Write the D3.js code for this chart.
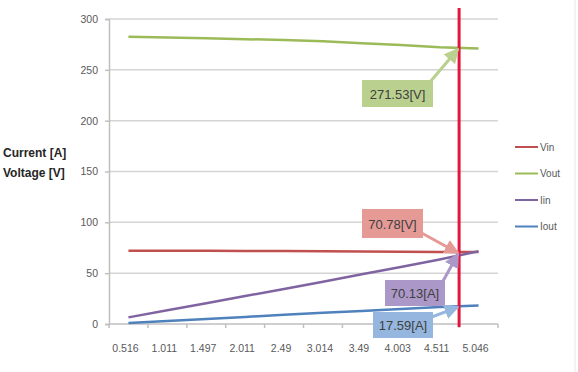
<!DOCTYPE html>
<html>
<head>
<meta charset="utf-8">
<script src="https://cdn.jsdelivr.net/npm/d3@7"></script>
<style>
  body { margin: 0; background: #fff; }
  svg { display: block; font-family: "Liberation Sans", Arial, sans-serif; }
</style>
</head>
<body>
<svg id="stage" width="578" height="372"></svg>
<script>
// chart data
const categories = ["0.516", "1.011", "1.497", "2.011", "2.49", "3.014", "3.49", "4.003", "4.511", "5.046"];
const vin = [72, 72, 72, 71.9, 71.8, 71.5, 71.3, 71.1, 70.9, 70.7];
const vout = [282.5, 281.8, 281, 280.2, 279.3, 278, 276.2, 274.5, 272.2, 271];
const iin = [6.5, 13.5, 20.5, 27.5, 34.5, 41.5, 49, 56, 63.5, 71.5];
const iout = [1, 3, 5, 7, 9, 11, 12.8, 14.7, 16.8, 18.3];
const yTicks = [0, 50, 100, 150, 200, 250, 300];
const seriesNames = ["Vin", "Vout", "Iin", "Iout"];
const callouts = [
  { text: "271.53[V]", value: 271.53 },
  { text: "70.78[V]", value: 70.78 },
  { text: "70.13[A]", value: 70.13 },
  { text: "17.59[A]", value: 17.59 },
];

const colors = { Vin: "#c0504d", Vout: "#9bbb59", Iin: "#8064a2", Iout: "#4f81bd" };
const boxFill = { Vin: "#e59a96", Vout: "#b9d08e", Iin: "#ab98c8", Iout: "#95b7df" };

const svg = d3.select("#stage");
const margin = { left: 109, right: 498, top: 19, bottom: 324 };

const x = d3.scaleBand().domain(categories).range([margin.left, margin.right]);
const xc = (c) => x(c) + x.bandwidth() / 2;
const y = d3.scaleLinear().domain([0, 300]).range([margin.bottom, margin.top]);

// gridlines
svg.append("g")
  .selectAll("line")
  .data(yTicks.filter((t) => t > 0))
  .join("line")
  .attr("x1", margin.left)
  .attr("x2", margin.right)
  .attr("y1", (d) => y(d))
  .attr("y2", (d) => y(d))
  .attr("stroke", "#d4d4d4")
  .attr("stroke-width", 1.5);

// y axis
const yAxis = svg.append("g")
  .attr("transform", `translate(${margin.left},0)`)
  .call(d3.axisLeft(y).tickValues(yTicks).tickSize(4).tickPadding(7));
yAxis.select(".domain").attr("stroke", "#bfbfbf").attr("stroke-width", 1.5);
yAxis.selectAll(".tick line").attr("stroke", "#bfbfbf").attr("stroke-width", 1.5);
yAxis.selectAll("text").attr("fill", "#595959").attr("font-size", 10.5);

// x axis with ticks on band edges
const xAxis = svg.append("g").attr("transform", `translate(0,${margin.bottom})`);
xAxis.append("line")
  .attr("x1", margin.left).attr("x2", margin.right)
  .attr("stroke", "#bfbfbf").attr("stroke-width", 1.5);
xAxis.selectAll("line.tk")
  .data(categories.concat(["end"]))
  .join("line")
  .attr("class", "tk")
  .attr("x1", (d, i) => margin.left + i * x.step())
  .attr("x2", (d, i) => margin.left + i * x.step())
  .attr("y1", 0).attr("y2", 4)
  .attr("stroke", "#bfbfbf").attr("stroke-width", 1.5);
xAxis.selectAll("text")
  .data(categories)
  .join("text")
  .attr("x", (d) => xc(d) - 3)
  .attr("y", 28)
  .attr("text-anchor", "middle")
  .attr("fill", "#595959")
  .attr("font-size", 10.5)
  .text((d) => d);

// axis title
svg.append("text").attr("x", 3).attr("y", 157).attr("font-size", 12)
  .attr("font-weight", "bold").attr("fill", "#262626").text("Current [A]");
svg.append("text").attr("x", 3).attr("y", 177).attr("font-size", 12)
  .attr("font-weight", "bold").attr("fill", "#262626").text("Voltage [V]");

// series lines
const seriesData = { Vin: vin, Vout: vout, Iin: iin, Iout: iout };
const line = d3.line().x((d) => xc(d.c)).y((d) => y(d.v));
for (const name of seriesNames) {
  svg.append("path")
    .datum(categories.map((c, i) => ({ c, v: seriesData[name][i] })))
    .attr("fill", "none")
    .attr("stroke", colors[name])
    .attr("stroke-width", 2.5)
    .attr("d", line);
}

// legend
const legend = svg.append("g").attr("transform", "translate(515,147)");
seriesNames.forEach((name, i) => {
  const g = legend.append("g").attr("transform", `translate(0,${i * 26.5})`);
  g.append("line").attr("x1", 0).attr("x2", 23).attr("stroke", colors[name]).attr("stroke-width", 2);
  g.append("text").attr("x", 25).attr("y", 3.5).attr("font-size", 10).attr("fill", "#595959").text(name);
});

// red cursor line between the last two categories
const cursorX = x(categories[categories.length - 1]);
svg.append("line")
  .attr("x1", cursorX).attr("x2", cursorX)
  .attr("y1", 8).attr("y2", 327)
  .attr("stroke", "#e3163f").attr("stroke-width", 3);

// callouts
const calloutBoxes = [
  { key: "Vout", x: 362, y: 80, w: 71, h: 27, fromX: 430, fromY: 82 },
  { key: "Vin", x: 362, y: 209, w: 61, h: 29, fromX: 418, fromY: 231 },
  { key: "Iin", x: 385, y: 280, w: 60, h: 26, fromX: 442, fromY: 283 },
  { key: "Iout", x: 373, y: 312, w: 60, h: 26, fromX: 429, fromY: 318 },
];

const defs = svg.append("defs");
calloutBoxes.forEach((b) => {
  defs.append("marker")
    .attr("id", `ah-${b.key}`)
    .attr("viewBox", "0 0 10 10")
    .attr("refX", 9).attr("refY", 5)
    .attr("markerWidth", 5).attr("markerHeight", 5)
    .attr("orient", "auto")
    .append("path")
    .attr("d", "M0,0L10,5L0,10z")
    .attr("fill", boxFill[b.key]);
});

calloutBoxes.forEach((b, i) => {
  const c = callouts[i];
  const g = svg.append("g");
  g.append("rect")
    .attr("x", b.x).attr("y", b.y).attr("width", b.w).attr("height", b.h)
    .attr("fill", boxFill[b.key]);
  g.append("text")
    .attr("x", b.x + b.w / 2).attr("y", b.y + b.h / 2 + 5)
    .attr("text-anchor", "middle")
    .attr("font-size", 13)
    .attr("fill", "#404040")
    .text(c.text);
  g.append("line")
    .attr("x1", b.fromX).attr("y1", b.fromY)
    .attr("x2", cursorX - 1).attr("y2", y(c.value) + 1)
    .attr("stroke", boxFill[b.key])
    .attr("stroke-width", 3)
    .attr("marker-end", `url(#ah-${b.key})`);
});

// faint frame on the right
svg.append("line").attr("x1", 575).attr("x2", 575).attr("y1", 0).attr("y2", 372)
  .attr("stroke", "#e6e6e6").attr("stroke-width", 1);
</script>
</body>
</html>
